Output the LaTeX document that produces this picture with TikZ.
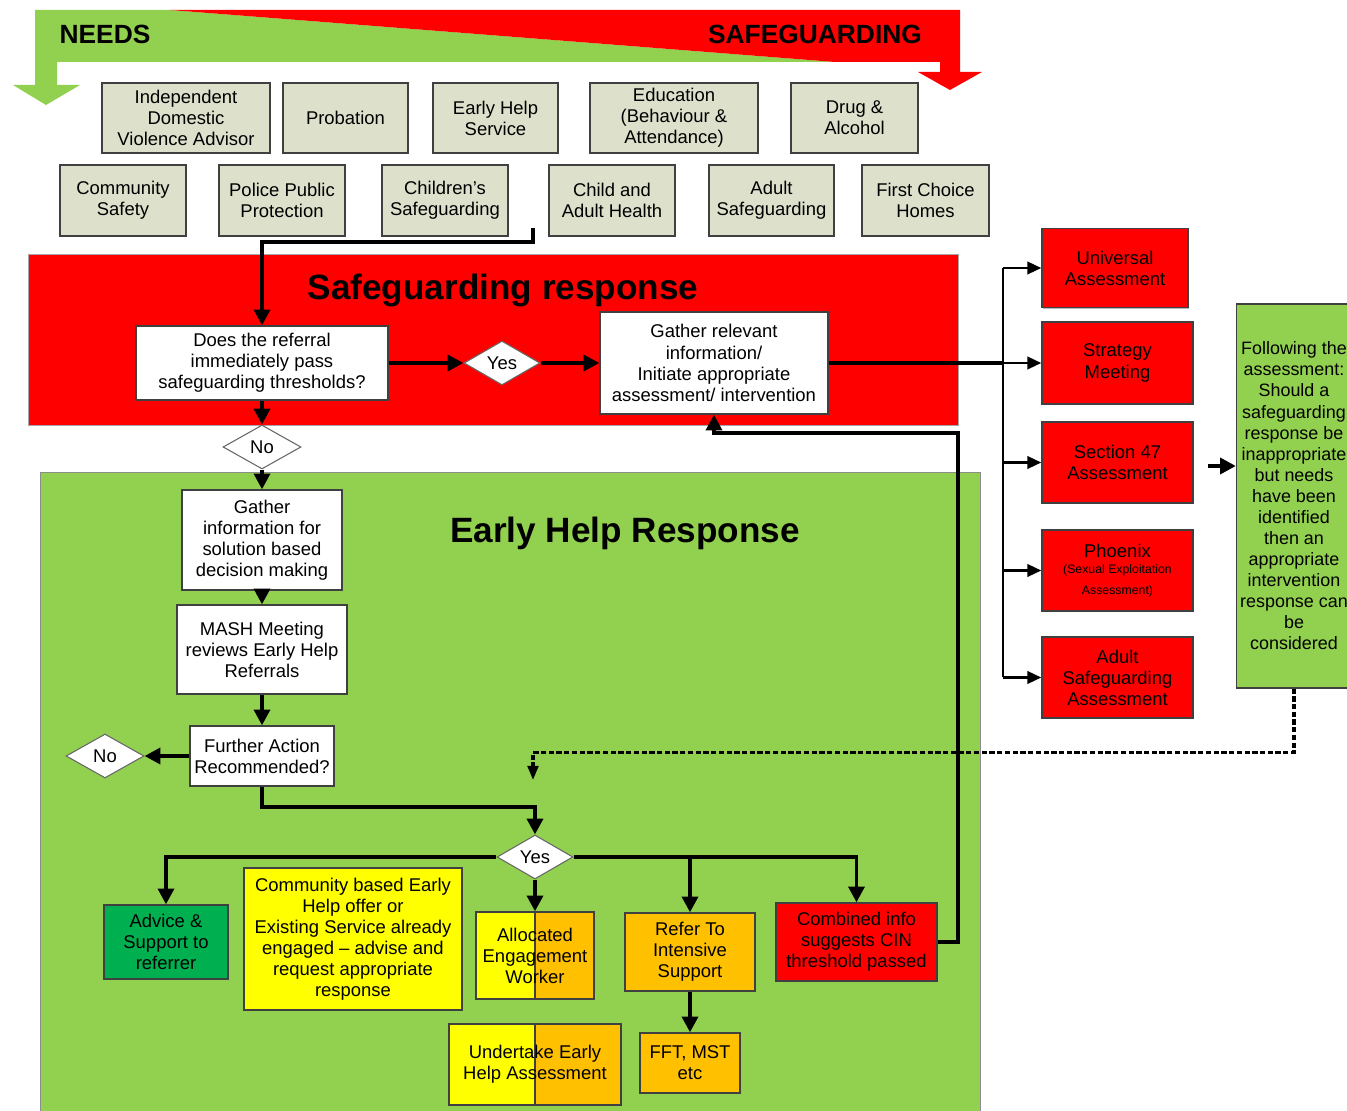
\documentclass[tikz,border=0pt]{standalone}
\usepackage{fontspec}
\setmainfont{Liberation Sans}
\usetikzlibrary{arrows.meta,shapes.geometric,shadows}
\definecolor{needgreen}{RGB}{146,208,80}
\definecolor{safered}{RGB}{255,0,0}
\definecolor{agencygrey}{RGB}{221,225,204}
\definecolor{helpyellow}{RGB}{255,255,0}
\definecolor{helporange}{RGB}{255,192,0}
\definecolor{advicegreen}{RGB}{0,176,80}
\newcommand{\boxfont}{\fontsize{10.5}{12}\selectfont}
\tikzset{
  box/.style={draw=black!75,line width=0.7pt,align=center,inner sep=1pt,font=\boxfont,
    drop shadow={shadow xshift=0.8pt,shadow yshift=-0.8pt,opacity=0.55}},
  agency/.style={box,fill=agencygrey},
  whitebox/.style={box,fill=white},
  redbox/.style={box,fill=safered},
  yellowbox/.style={box,fill=helpyellow},
  orangebox/.style={box,fill=helporange},
  splitbox/.style={box,fill=helpyellow,path picture={
      \fill[helporange] (path picture bounding box.north) rectangle (path picture bounding box.south east);
      \draw[black!75,line width=0.6pt] (path picture bounding box.north) -- (path picture bounding box.south);}},
  decision/.style={diamond,draw=black!60,line width=0.6pt,fill=white,inner sep=0pt,font=\boxfont},
  title/.style={font=\fontsize{20}{24}\selectfont\bfseries},
  banner/.style={font=\fontsize{15}{18}\selectfont\bfseries},
  link/.style={line width=2.2pt},
  flow/.style={link,-{Triangle[length=9pt,width=9pt]}},
  thinflow/.style={line width=1.7pt,-{Triangle[length=8pt,width=7pt]}},
  dashflow/.style={line width=1.8pt,dash pattern=on 3pt off 1.4pt,-{Triangle[length=8pt,width=6pt]}}
}
\begin{document}
\begin{tikzpicture}[x=0.02cm,y=-0.02cm]
\useasboundingbox (0,0) rectangle (1347,1111);
% needs / safeguarding banner
\fill[needgreen] (35,10) -- (170,10) -- (835,62) -- (57,62) -- (57,85) -- (80,85)
  -- (46,105) -- (13,85) -- (35,85) -- cycle;
\fill[safered] (170,10) -- (960,10) -- (960,72) -- (982,72) -- (950,90) -- (918,72)
  -- (940,72) -- (940,62) -- (835,62) -- cycle;
\node[banner] (needs) at (105,34) {NEEDS};
\node[banner] (safe) at (815,34) {SAFEGUARDING};

% agencies
\node[agency,minimum width=3.36cm,minimum height=1.4cm] (idva) at (186,118) {Independent\\Domestic\\Violence Advisor};
\node[agency,minimum width=2.5cm,minimum height=1.4cm] (prob) at (345.5,118) {Probation};
\node[agency,minimum width=2.5cm,minimum height=1.4cm] (ehs) at (495.5,118) {Early Help\\Service};
\node[agency,minimum width=3.36cm,minimum height=1.4cm] (edu) at (674,118) {Education\\(Behaviour \&\\Attendance)};
\node[agency,minimum width=2.54cm,minimum height=1.4cm] (drug) at (854.5,118) {Drug \&\\Alcohol};
\node[agency,minimum width=2.52cm,minimum height=1.42cm] (comm) at (123,200.5) {Community\\Safety};
\node[agency,minimum width=2.52cm,minimum height=1.42cm] (police) at (282,200.5) {Police Public\\Protection};
\node[agency,minimum width=2.52cm,minimum height=1.42cm] (childsg) at (445,200.5) {Children’s\\Safeguarding};
\node[agency,minimum width=2.52cm,minimum height=1.42cm] (health) at (612,200.5) {Child and\\Adult Health};
\node[agency,minimum width=2.5cm,minimum height=1.42cm] (adultsg) at (771.5,200.5) {Adult\\Safeguarding};
\node[agency,minimum width=2.54cm,minimum height=1.42cm] (fch) at (925.5,200.5) {First Choice\\Homes};

% response areas
\draw[black!35,fill=safered] (28,254) rectangle (958,425);
\draw[black!45,fill=needgreen] (40,472) rectangle (980,1125);
\node[title] (sgtitle) at (503,290) {Safeguarding response};
\node[title] (ehtitle) at (625,533) {Early Help Response};

% safeguarding flow
\node[whitebox,minimum width=5.04cm,minimum height=1.48cm] (does) at (262,363) {Does the referral\\immediately pass\\safeguarding thresholds?};
\node[decision,minimum width=1.52cm,minimum height=0.88cm] (yesa) at (502,363) {Yes};
\node[whitebox,minimum width=4.56cm,minimum height=2.04cm] (gather) at (714,363) {Gather relevant\\information/\\Initiate appropriate\\assessment/ intervention};
\node[decision,minimum width=1.56cm,minimum height=0.88cm] (noa) at (262,447) {No};

% early help flow
\node[whitebox,minimum width=3.2cm,minimum height=2cm] (ginfo) at (262,540) {Gather\\information for\\solution based\\decision making};
\node[whitebox,minimum width=3.4cm,minimum height=1.78cm] (mash) at (262,649.5) {MASH Meeting\\reviews Early Help\\Referrals};
\node[whitebox,minimum width=2.88cm,minimum height=1.2cm] (further) at (262,756) {Further Action\\Recommended?};
\node[decision,minimum width=1.56cm,minimum height=0.88cm] (nob) at (105,756) {No};
\node[decision,minimum width=1.52cm,minimum height=0.88cm] (yesb) at (535,857) {Yes};
\node[box,fill=advicegreen,minimum width=2.48cm,minimum height=1.48cm] (advice) at (166,942) {Advice \&\\Support to\\referrer};
\node[yellowbox,minimum width=4.36cm,minimum height=2.84cm] (cbased) at (353,939) {Community based Early\\Help offer or\\Existing Service already\\engaged – advise and\\request appropriate\\response};
\node[splitbox,minimum width=2.36cm,minimum height=1.74cm] (alloc) at (535,955.5) {Allocated\\Engagement\\Worker};
\node[orangebox,minimum width=2.6cm,minimum height=1.56cm] (refer) at (690,952) {Refer To\\Intensive\\Support};
\node[redbox,minimum width=3.22cm,minimum height=1.56cm] (comb) at (856.5,942) {Combined info\\suggests CIN\\threshold passed};
\node[splitbox,minimum width=3.44cm,minimum height=1.62cm] (undert) at (535,1064.5) {Undertake Early\\Help Assessment};
\node[orangebox,minimum width=2cm,minimum height=1.2cm] (fft) at (690,1063) {FFT, MST\\etc};

% assessments
\node[redbox,minimum width=2.92cm,minimum height=1.58cm] (univ) at (1115,268) {Universal\\Assessment};
\node[redbox,minimum width=3.02cm,minimum height=1.64cm] (strat) at (1117.5,363) {Strategy\\Meeting};
\node[redbox,minimum width=3.02cm,minimum height=1.62cm] (sfortyseven) at (1117.5,462.5) {Section 47\\Assessment};
\node[redbox,minimum width=3.02cm,minimum height=1.62cm] (phoenix) at (1117.5,570.5) {Phoenix\\[-3pt]{\fontsize{7}{8}\selectfont(Sexual Exploitation}\\[0pt]{\fontsize{7}{8}\selectfont Assessment)}};
\node[redbox,minimum width=3.02cm,minimum height=1.62cm] (adultass) at (1117.5,677.5) {Adult\\Safeguarding\\Assessment};
\node[box,fill=needgreen,font=\fontsize{10.2}{12}\selectfont,minimum width=2.3cm,minimum height=7.68cm] (gtext) at (1294,496) {Following the\\assessment:\\Should a\\safeguarding\\response be\\inappropriate\\but needs\\have been\\identified\\then an\\appropriate\\intervention\\response can\\be\\considered};

% connectors
\coordinate (refstart) at (533,228);
\coordinate (trunk) at (1003,363);
\coordinate (gtin) at (1208,466);
\coordinate (dashend) at (533,780);
\draw[flow] (refstart) -- (533,242) -| (does.north);
\draw[flow] (does.east) -- (yesa.west);
\draw[flow] (yesa.east) -- (gather.west);
\draw[flow] (does.south) -- (noa.north);
\draw[flow] (noa.south) -- (ginfo.north);
\draw[flow] (ginfo.south) -- (mash.north);
\draw[flow] (mash.south) -- (further.north);
\draw[flow] (further.west) -- (nob.east);
\draw[flow] (further.south) -- ++(0,20) -| (yesb.north);
\draw[flow] (yesb.west) -| (advice.north);
\draw[flow] (yesb.east) -| (comb.north);
\draw[flow] (yesb.east -| refer.north) -- (refer.north);
\draw[flow] (yesb.south) -- (alloc.north);
\draw[flow] (refer.south) -- (fft.north);
\draw[flow] (comb.east) -| (958,433) -| (gather.south);
\draw[link] (gather.east) -- (gather.east -| trunk);
\draw[line width=1.7pt] (univ.west -| trunk) -- (adultass.west -| trunk);
\foreach \b in {univ,strat,sfortyseven,phoenix,adultass}
  \draw[thinflow] (\b.west -| trunk) -- (\b.west);
\draw[flow] (gtin) -- (gtin -| gtext.west);
\draw[dashflow] (gtext.south) -- ++(0,64) -| (dashend);
\end{tikzpicture}
\end{document}
